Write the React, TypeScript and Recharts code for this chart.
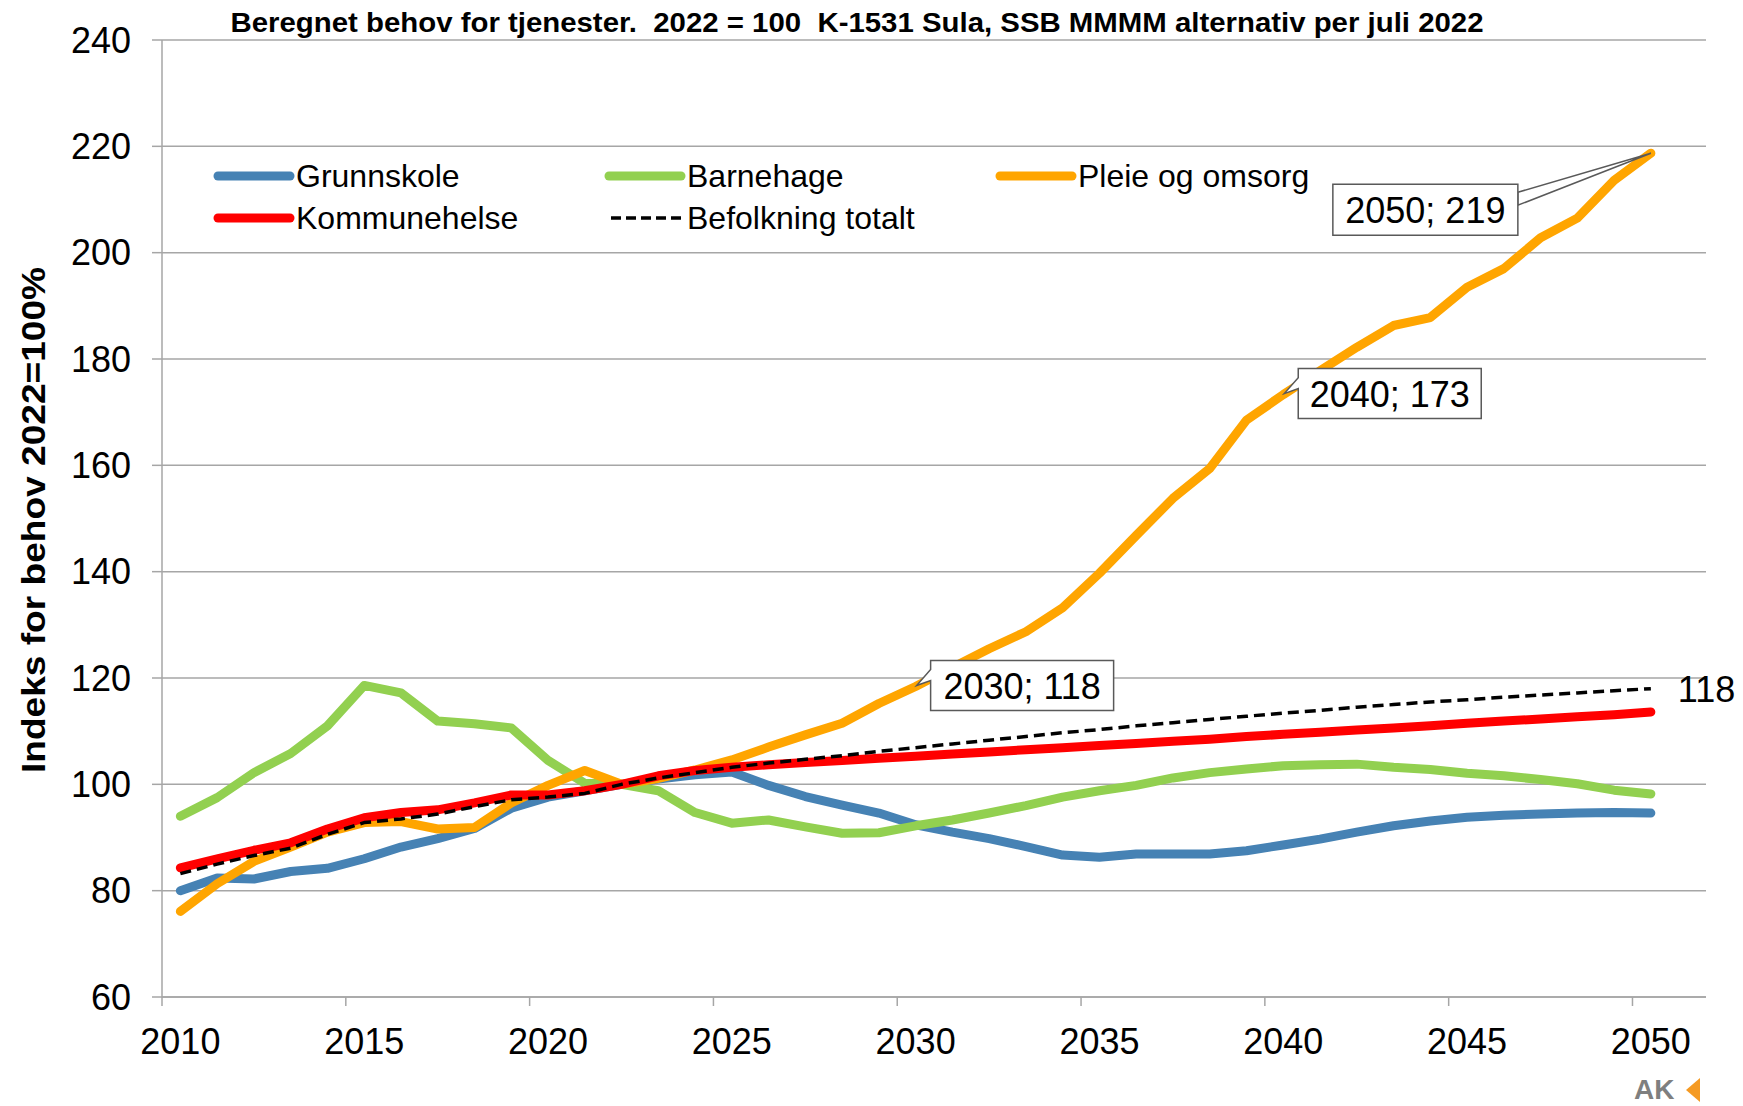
import React from "react";
import {
	CartesianGrid,
	LabelList,
	Legend,
	Line,
	LineChart,
	XAxis,
	YAxis,
} from "recharts";

const years = [
	2010, 2011, 2012, 2013, 2014, 2015, 2016, 2017, 2018, 2019, 2020, 2021, 2022,
	2023, 2024, 2025, 2026, 2027, 2028, 2029, 2030, 2031, 2032, 2033, 2034, 2035,
	2036, 2037, 2038, 2039, 2040, 2041, 2042, 2043, 2044, 2045, 2046, 2047, 2048,
	2049, 2050,
];

const grunnskole = [
	80.0, 82.4, 82.2, 83.6, 84.2, 86.0, 88.2, 89.8, 91.7, 95.5, 97.6, 98.8, 100.0,
	101.0, 101.8, 102.3, 99.8, 97.7, 96.1, 94.6, 92.4, 91.0, 89.8, 88.3, 86.7,
	86.3, 86.9, 86.9, 86.9, 87.5, 88.6, 89.7, 91.0, 92.2, 93.1, 93.8, 94.2, 94.4,
	94.6, 94.7, 94.6,
];

const barnehage = [
	94.0, 97.5, 102.2, 105.8, 111.0, 118.6, 117.2, 111.9, 111.4, 110.6, 104.5,
	100.2, 100.0, 98.8, 94.7, 92.7, 93.3, 92.0, 90.8, 90.9, 92.2, 93.3, 94.6,
	96.0, 97.6, 98.8, 99.8, 101.2, 102.2, 102.9, 103.5, 103.7, 103.8, 103.2,
	102.8, 102.1, 101.6, 100.9, 100.1, 98.9, 98.2,
];

const pleieOgOmsorg = [
	76.1, 81.3, 85.5, 88.2, 91.0, 92.8, 93.0, 91.6, 91.9, 96.5, 99.8, 102.6,
	100.0, 101.1, 102.7, 104.6, 107.0, 109.3, 111.5, 115.2, 118.4, 122.0, 125.5,
	128.7, 133.2, 139.7, 146.8, 153.8, 159.4, 168.5, 173.3, 177.8, 182.2, 186.3,
	187.8, 193.5, 197.0, 202.8, 206.5, 213.6, 218.7,
];

const kommunehelse = [
	84.3, 86.0, 87.6, 89.0, 91.6, 93.7, 94.7, 95.2, 96.5, 98.0, 98.0, 98.8, 100.0,
	101.6, 102.6, 103.2, 103.7, 104.1, 104.5, 104.9, 105.3, 105.7, 106.1, 106.5,
	106.9, 107.3, 107.7, 108.1, 108.5, 109.0, 109.4, 109.8, 110.2, 110.6, 111.0,
	111.5, 111.9, 112.3, 112.7, 113.1, 113.6,
];

const befolkning = [
	83.2, 85.0, 86.6, 88.0, 90.6, 92.8, 93.5, 94.4, 95.8, 97.1, 97.6, 98.3, 100.0,
	101.2, 102.2, 103.2, 104.0, 104.7, 105.4, 106.2, 106.9, 107.6, 108.3, 109.0,
	109.7, 110.3, 111.0, 111.6, 112.2, 112.8, 113.4, 113.9, 114.5, 115.0, 115.5,
	115.9, 116.4, 116.8, 117.2, 117.6, 118.0,
];

const yTicks = [60, 80, 100, 120, 140, 160, 180, 200, 220, 240];
const xTickYears = [2010, 2015, 2020, 2025, 2030, 2035, 2040, 2045, 2050];
const labelYears = [2030, 2040, 2050];

const data = years.map((year, i) => ({
	year,
	grunnskole: grunnskole[i],
	barnehage: barnehage[i],
	pleie: pleieOgOmsorg[i],
	kommunehelse: kommunehelse[i],
	befolkning: befolkning[i],
}));

const W = 1743;
const H = 1106;
const X_AXIS_H = 30;
const MARGIN = { top: 40, right: 37, bottom: 79, left: 0 };
const Y_AXIS_W = 162;
const PLOT_W = W - MARGIN.right - MARGIN.left - Y_AXIS_W;
const BAND = PLOT_W / 42;
const AXIS_Y = H - MARGIN.bottom - X_AXIS_H;
const FONT = "'Liberation Sans', Arial, sans-serif";
const GRID = "#a6a6a6";
const BOX = "#595959";

const series = [
	{ key: "grunnskole", name: "Grunnskole", color: "#4682B4", dash: undefined },
	{ key: "barnehage", name: "Barnehage", color: "#92D050", dash: undefined },
	{ key: "pleie", name: "Pleie og omsorg", color: "#FFA500", dash: undefined },
	{ key: "kommunehelse", name: "Kommunehelse", color: "#FF0000", dash: undefined },
	{ key: "befolkning", name: "Befolkning totalt", color: "#000000", dash: "11 6" },
];

// legend slots, Excel style: 3 columns, 2 rows
const legendSlots = [
	{ x: 218, y: 176 },
	{ x: 609, y: 176 },
	{ x: 1000, y: 176 },
	{ x: 218, y: 218 },
	{ x: 609, y: 218 },
];

const XTick = ({ x, payload }: any) => (
	<g>
		<line
			x1={x - BAND / 2}
			x2={x - BAND / 2}
			y1={AXIS_Y}
			y2={AXIS_Y + 9}
			stroke={GRID}
			strokeWidth={1.5}
		/>
		<text
			x={x}
			y={AXIS_Y + 44}
			textAnchor="middle"
			dominantBaseline="central"
			fontSize={36}
			fontFamily={FONT}
			fill="#000"
		>
			{payload.value}
		</text>
	</g>
);

const PleieLabel = (props: any) => {
	const { x, y, value } = props;
	const i = props.index ?? pleieOgOmsorg.indexOf(value);
	const year = years[i];
	if (!labelYears.includes(year)) return null;
	const text = `${year}; ${Math.round(value)}`;

	if (year === 2050) {
		const left = x - 318;
		const top = y + 31;
		const w = 185;
		const h = 51;
		return (
			<g>
				<polygon
					points={`${left + w},${top + 8} ${x},${y} ${left + w},${top + 21}`}
					fill="#fff"
					stroke={BOX}
					strokeWidth={1.5}
				/>
				<rect x={left} y={top} width={w} height={h} fill="#fff" stroke={BOX} strokeWidth={1.5} />
				<text
					x={left + w / 2}
					y={top + h / 2 + 1}
					textAnchor="middle"
					dominantBaseline="central"
					fontSize={36}
					fontFamily={FONT}
					fill="#000"
				>
					{text}
				</text>
			</g>
		);
	}

	const left = x + 15;
	const top = y - 26;
	const w = 183;
	const h = 50;
	const d = `M${left},${top} H${left + w} V${top + h} H${left} V${top + 20} L${x + 1},${y - 1} L${left},${top + 9} Z`;
	return (
		<g>
			<path d={d} fill="#fff" stroke={BOX} strokeWidth={1.5} />
			<text
				x={left + w / 2}
				y={top + h / 2 + 1}
				textAnchor="middle"
				dominantBaseline="central"
				fontSize={36}
				fontFamily={FONT}
				fill="#000"
			>
				{text}
			</text>
		</g>
	);
};

const BefolkningLabel = (props: any) => {
	const { x, y, value } = props;
	const i = props.index ?? befolkning.lastIndexOf(value);
	if (i !== years.length - 1) return null;
	return (
		<text
			x={x + 27}
			y={y + 1}
			dominantBaseline="central"
			fontSize={36}
			fontFamily={FONT}
			fill="#000"
		>
			{Math.round(value)}
		</text>
	);
};

const LegendContent = () => (
	<svg width={W} height={260} style={{ display: "block" }}>
		{series.map((s, i) => {
			const slot = legendSlots[i];
			return (
				<g key={s.key}>
					<line
						x1={slot.x + (s.dash ? 2 : 0)}
						x2={slot.x + 72}
						y1={slot.y}
						y2={slot.y}
						stroke={s.color}
						strokeWidth={s.dash ? 3.5 : 9}
						strokeLinecap={s.dash ? "butt" : "round"}
						strokeDasharray={s.dash ? "10 5" : undefined}
					/>
					<text
						x={slot.x + 78}
						y={slot.y}
						dominantBaseline="central"
						fontSize={32}
						fontFamily={FONT}
						fill="#000"
					>
						{s.name}
					</text>
				</g>
			);
		})}
	</svg>
);

export default function App() {
	return (
		<div style={{ position: "absolute", left: 0, top: 0, width: W, height: H, background: "#fff" }}>
			<LineChart width={W} height={H} data={data} margin={MARGIN}>
				<CartesianGrid vertical={false} stroke={GRID} strokeWidth={1.5} />
				<XAxis
					dataKey="year"
					type="number"
					domain={[2009.5, 2051.5]}
					ticks={xTickYears}
					interval={0}
					height={X_AXIS_H}
					tickLine={false}
					axisLine={{ stroke: GRID, strokeWidth: 1.5 }}
					tick={<XTick />}
				/>
				<YAxis
					domain={[60, 240]}
					ticks={yTicks}
					interval={0}
					width={Y_AXIS_W}
					tickSize={10}
					tickMargin={21}
					axisLine={{ stroke: GRID, strokeWidth: 1.5 }}
					tickLine={{ stroke: GRID, strokeWidth: 1.5 }}
					tick={{ fontSize: 36, fill: "#000", fontFamily: FONT }}
				/>
				<Legend
					layout="horizontal"
					verticalAlign="middle"
					align="center"
					wrapperStyle={{ left: 0, top: 0, width: W, height: 260 }}
					content={<LegendContent />}
				/>
				{series.map((s) => (
					<Line
						key={s.key}
						dataKey={s.key}
						name={s.name}
						type="linear"
						stroke={s.color}
						strokeWidth={s.dash ? 3.5 : 9}
						strokeDasharray={s.dash}
						strokeLinecap={s.dash ? "butt" : "round"}
						strokeLinejoin="round"
						dot={false}
						activeDot={false}
						isAnimationActive={false}
					>
						{s.key === "pleie" && <LabelList dataKey="pleie" content={<PleieLabel />} />}
						{s.key === "befolkning" && (
							<LabelList dataKey="befolkning" content={<BefolkningLabel />} />
						)}
					</Line>
				))}
			</LineChart>
			<svg
				width={W}
				height={H}
				style={{ position: "absolute", left: 0, top: 0, pointerEvents: "none" }}
			>
				<text
					x={857}
					y={23}
					textAnchor="middle"
					dominantBaseline="central"
					fontSize={27}
					fontWeight="bold"
					fontFamily={FONT}
					textLength={1253}
					lengthAdjust="spacingAndGlyphs"
					fill="#000"
					style={{ whiteSpace: "pre" }}
				>
					Beregnet behov for tjenester.  2022 = 100  K-1531 Sula, SSB MMMM alternativ per juli 2022
				</text>
				<text
					transform="translate(33,520) rotate(-90)"
					textAnchor="middle"
					dominantBaseline="central"
					fontSize={34}
					fontWeight="bold"
					fontFamily={FONT}
					textLength={506}
					lengthAdjust="spacingAndGlyphs"
					fill="#000"
				>
					Indeks for behov 2022=100%
				</text>
				<g>
					<text x={1634} y={1099} fontSize={28} fontWeight="bold" fontFamily={FONT} fill="#7f7f7f">
						AK
					</text>
					<polygon points="1700,1078 1686,1090 1700,1102" fill="#F59A23" />
				</g>
			</svg>
		</div>
	);
}
